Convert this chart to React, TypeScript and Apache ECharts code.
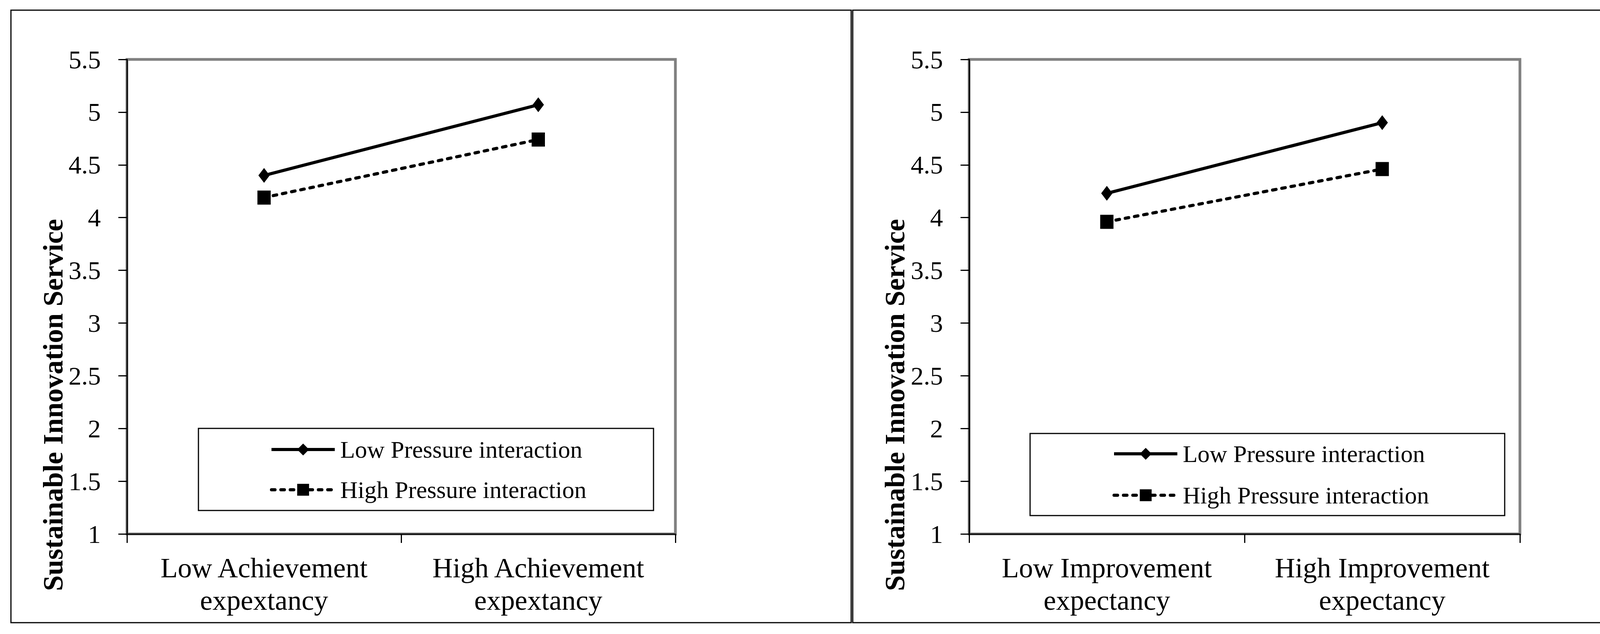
import React, { useEffect, useRef } from "react";
import * as echarts from "echarts";

const W = 4371;
const H = 1622;

const leftCategories = ["Low Achievement\nexpextancy", "High Achievement\nexpextancy"];
const rightCategories = ["Low Improvement\nexpectancy", "High Improvement\nexpectancy"];
const seriesNames = ["Low Pressure interaction", "High Pressure interaction"];
const leftLow = [4.4, 5.07];
const leftHigh = [4.19, 4.74];
const rightLow = [4.23, 4.9];
const rightHigh = [3.96, 4.46];
const yTitle = "Sustainable Innovation Service";
const yMin = 1;
const yMax = 5.5;
const yStep = 0.5;

const FONT = "'Liberation Serif', 'Times New Roman', serif";

function makeY(gridIndex: number) {
  return {
    type: "value",
    gridIndex,
    min: yMin,
    max: yMax,
    interval: yStep,
    axisLine: { show: true, lineStyle: { color: "#000", width: 3 } },
    axisTick: { show: true, length: 22, lineStyle: { color: "#000", width: 3 } },
    splitLine: { show: false },
    axisLabel: { fontSize: 66, fontFamily: FONT, color: "#000", margin: 67 },
  };
}

function makeX(gridIndex: number, data: string[]) {
  return {
    type: "category",
    gridIndex,
    data,
    boundaryGap: true,
    axisLine: { show: true, onZero: false, lineStyle: { color: "#000", width: 3 } },
    axisTick: { show: true, length: 23, alignWithLabel: false, interval: 0, lineStyle: { color: "#000", width: 3 } },
    splitLine: { show: false },
    axisLabel: { interval: 0, fontSize: 72, lineHeight: 83, fontFamily: FONT, color: "#000", margin: 45 },
  };
}

function lowSeries(idx: number, data: number[]) {
  return {
    name: seriesNames[0],
    type: "line",
    xAxisIndex: idx,
    yAxisIndex: idx,
    data,
    symbol: "diamond",
    symbolSize: [29, 38],
    lineStyle: { color: "#000", width: 8, type: "solid" },
    itemStyle: { color: "#000" },
  };
}

function highSeries(idx: number, data: number[]) {
  return {
    name: seriesNames[1],
    type: "line",
    xAxisIndex: idx,
    yAxisIndex: idx,
    data,
    symbol: "rect",
    symbolSize: [34, 36],
    lineStyle: { color: "#000", width: 8, type: [9, 15], cap: "round" },
    itemStyle: { color: "#000" },
  };
}

function makeLegend(left: number, top: number, gap: number) {
  return {
    orient: "vertical",
    left,
    top,
    padding: 0,
    itemWidth: 162,
    itemHeight: 38,
    itemGap: gap,
    data: seriesNames,
    selectedMode: false,
    lineStyle: { width: 8 },
    textStyle: { fontSize: 62, lineHeight: 62, fontFamily: FONT, color: "#000", padding: [0, 0, 0, 9] },
  };
}

export default function App() {
  const ref = useRef<HTMLDivElement>(null);
  useEffect(() => {
    document.body.style.margin = "0";
    document.body.style.background = "#fff";
    if (!ref.current) return;
    const chart = echarts.init(ref.current, undefined, { renderer: "svg" });
    const option: any = {
      animation: false,
      backgroundColor: "#fff",
      grid: [
        { left: 325, top: 152, width: 1404, height: 1214, show: true, borderColor: "#808080", borderWidth: 7, backgroundColor: "transparent" },
        { left: 2481, top: 152, width: 1410, height: 1214, show: true, borderColor: "#808080", borderWidth: 7, backgroundColor: "transparent" },
      ],
      xAxis: [makeX(0, leftCategories), makeX(1, rightCategories)],
      yAxis: [makeY(0), makeY(1)],
      legend: [makeLegend(691, 1119, 41), makeLegend(2848, 1130, 44)],
      series: [lowSeries(0, leftLow), highSeries(0, leftHigh), lowSeries(1, rightLow), highSeries(1, rightHigh)],
      graphic: [
        { type: "rect", shape: { x: 28, y: 26, width: 2151, height: 1567 }, style: { fill: "none", stroke: "#000", lineWidth: 3 } },
        { type: "rect", shape: { x: 2183, y: 26, width: 2163, height: 1567 }, style: { fill: "none", stroke: "#000", lineWidth: 3 } },
        { type: "rect", shape: { x: 508, y: 1096, width: 1165, height: 210 }, style: { fill: "none", stroke: "#000", lineWidth: 3 } },
        { type: "rect", shape: { x: 2637, y: 1109, width: 1215, height: 210 }, style: { fill: "none", stroke: "#000", lineWidth: 3 } },
        {
          type: "text", x: 136, y: 1036, rotation: Math.PI / 2,
          style: { text: yTitle, fontSize: 72, fontWeight: "bold", fontFamily: FONT, fill: "#000", align: "center", verticalAlign: "middle" },
        },
        {
          type: "text", x: 2291, y: 1036, rotation: Math.PI / 2,
          style: { text: yTitle, fontSize: 72, fontWeight: "bold", fontFamily: FONT, fill: "#000", align: "center", verticalAlign: "middle" },
        },
      ],
    };
    chart.setOption(option);
    return () => chart.dispose();
  }, []);
  return <div ref={ref} style={{ width: W, height: H, background: "#fff" }} />;
}
